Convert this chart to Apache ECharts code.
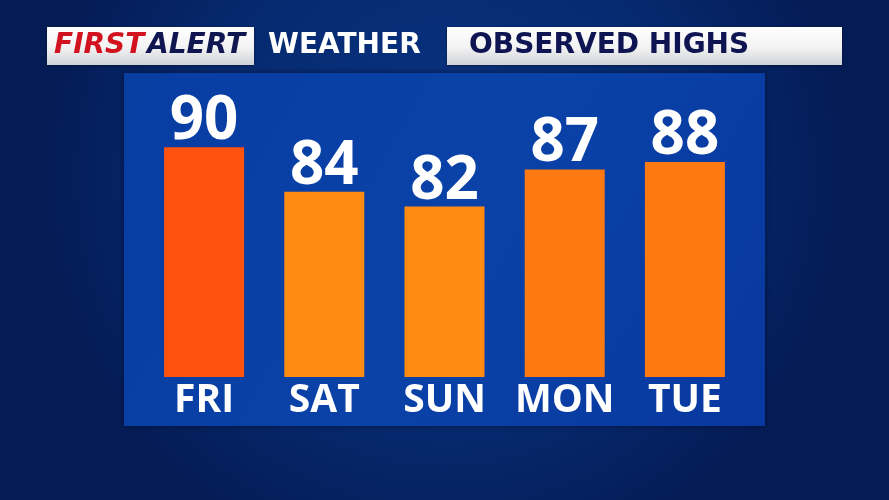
<!DOCTYPE html>
<html>
<head>
<meta charset="utf-8">
<script src="https://cdn.jsdelivr.net/npm/echarts@6/dist/echarts.min.js"></script>
<style>
html,body{margin:0;padding:0;background:#062a72;}
#c{width:889px;height:500px;}
</style>
</head>
<body>
<div id="c"></div>
<script>
const days = ['FRI', 'SAT', 'SUN', 'MON', 'TUE'];
const highs = [90, 84, 82, 87, 88];
const barColors = ['#ff520e', '#ff8b12', '#ff8b12', '#ff7912', '#ff7912'];
const headerLeft = ['FIRST', 'ALERT'];
const headerMid = 'WEATHER';
const headerRight = 'OBSERVED HIGHS';

const chart = echarts.init(document.getElementById('c'));
const boxGrad = new echarts.graphic.LinearGradient(0, 0, 0, 1, [
  {offset: 0, color: '#ffffff'}, {offset: 0.55, color: '#f2f2f2'}, {offset: 1, color: '#cfd2d8'}
]);
const F = '"Open Sans", "Noto Sans", sans-serif';
const H = '"DejaVu Sans", Verdana, sans-serif';
chart.setOption({
  animation: false,
  backgroundColor: new echarts.graphic.RadialGradient(0.5, 0.35, 0.8, [
    {offset: 0, color: '#093484'}, {offset: 0.6, color: '#062a70'}, {offset: 1, color: '#041c56'}
  ]),
  graphic: [
    {type: 'rect', z: -10, shape: {x: 124, y: 73, width: 641, height: 353},
      style: {fill: new echarts.graphic.LinearGradient(0, 0, 1, 1, [
        {offset: 0, color: '#083da2'}, {offset: 0.5, color: '#0a42a8'}, {offset: 1, color: '#0838a0'}]),
        shadowBlur: 6, shadowColor: 'rgba(0,0,20,0.5)'}},
    {type: 'rect', shape: {x: 47, y: 27, width: 207, height: 38},
      style: {fill: boxGrad, shadowBlur: 3, shadowColor: 'rgba(0,0,0,0.4)', shadowOffsetY: 1}},
    {type: 'rect', shape: {x: 447, y: 27, width: 395, height: 38},
      style: {fill: boxGrad, shadowBlur: 3, shadowColor: 'rgba(0,0,0,0.4)', shadowOffsetY: 1}},
    {type: 'text', x: 54, y: 46, style: {text: headerLeft[0], fill: '#d2121f',
      font: 'italic bold 28px ' + H, textVerticalAlign: 'middle'}},
    {type: 'text', x: 147, y: 46, style: {text: headerLeft[1], fill: '#101650',
      font: 'italic bold 28px ' + H, textVerticalAlign: 'middle'}},
    {type: 'text', x: 268, y: 46, style: {text: headerMid, fill: '#ffffff',
      font: 'bold 28px ' + H, textVerticalAlign: 'middle'}},
    {type: 'text', x: 469, y: 46, style: {text: headerRight, fill: '#0f1452',
      font: 'bold 28px ' + H, textVerticalAlign: 'middle'}}
  ],
  grid: {left: 144, right: 144, top: 73, bottom: 123, containLabel: false},
  xAxis: {
    type: 'category', data: days,
    axisLine: {show: false}, axisTick: {show: false},
    axisLabel: {interval: 0, color: '#ffffff', fontSize: 39, fontWeight: 'bold', fontFamily: F, margin: 4}
  },
  yAxis: {type: 'value', min: 59, max: 100, show: false, splitLine: {show: false}},
  series: [{
    type: 'bar', barWidth: 80,
    data: highs.map((v, i) => ({value: v, itemStyle: {color: barColors[i]}})),
    label: {show: true, position: 'top', distance: -5, color: '#ffffff',
      fontSize: 60, fontWeight: 'bold', fontFamily: F}
  }]
});
</script>
</body>
</html>
